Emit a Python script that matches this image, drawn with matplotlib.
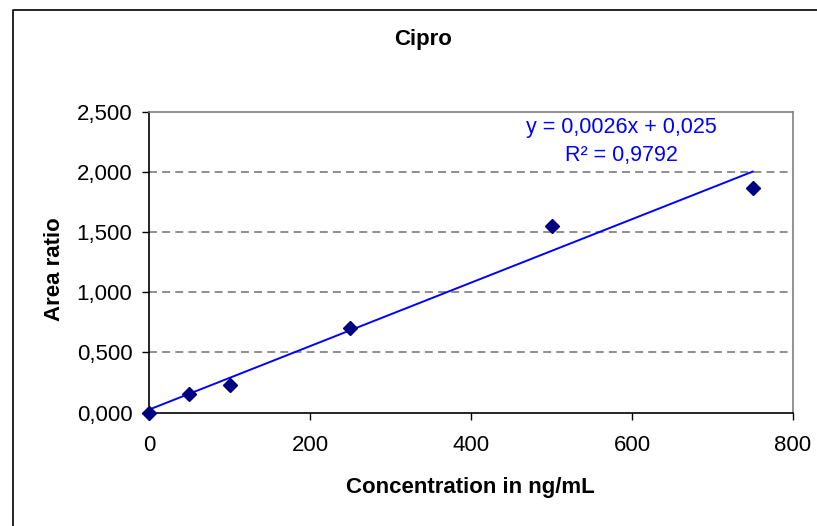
import numpy as np
import matplotlib
matplotlib.use("Agg")
import matplotlib.pyplot as plt
from matplotlib.lines import Line2D

# ---- data ----
concentration = [0, 50, 100, 250, 500, 750]
area_ratio = [0.00, 0.15, 0.23, 0.70, 1.55, 1.87]
x_ticks = [0, 200, 400, 600, 800]
y_ticks = [0.0, 0.5, 1.0, 1.5, 2.0, 2.5]
y_tick_labels = ["0,000", "0,500", "1,000", "1,500", "2,000", "2,500"]
title = "Cipro"
x_label = "Concentration in ng/mL"
y_label = "Area ratio"
eq_text = "y = 0,0026x + 0,025"
r2_text = "R\u00b2 = 0,9792"

plt.rcParams['font.family'] = ['Liberation Sans', 'DejaVu Sans']

W, H = 817, 526
fig = plt.figure(figsize=(W / 100, H / 100), dpi=100)
fig.patch.set_facecolor('white')

left, right, top, bottom = 149, 793, 112, 412.5
ax = fig.add_axes([left / W, 1 - bottom / H, (right - left) / W, (bottom - top) / H])

# outer chart frame (only top & left visible)
fig.add_artist(Line2D([13 / W, 13 / W, 1.0], [0.0, 1 - 10 / H, 1 - 10 / H],
                      transform=fig.transFigure, color='black', lw=1.2))

# grid lines
for yv in y_ticks[1:-1]:
    ax.axhline(yv, color='#707070', lw=1.1, ls=(0, (5.2, 3.4)), zorder=1)

# trendline (least squares fit of the data)
slope, intercept = np.polyfit(concentration, area_ratio, 1)
xs = np.array([min(concentration), max(concentration)])
ax.plot(xs, slope * xs + intercept, color='#0000FF', lw=1.4, zorder=2)

# data points
ax.plot(concentration, area_ratio, ls='none', marker='D', ms=7.2,
        color='#000080', mec='#000080', zorder=3, clip_on=False)

ax.set_xlim(0, 800)
ax.set_ylim(0, 2.5)
ax.set_xticks(x_ticks)
ax.set_xticklabels([str(v) for v in x_ticks])
ax.set_yticks(y_ticks)
ax.set_yticklabels(y_tick_labels)
ax.tick_params(axis='both', direction='out', length=5, width=1, color='black',
               labelsize=16, labelcolor='black')
ax.tick_params(axis='x', pad=11)
ax.tick_params(axis='y', pad=7)

for s in ['left', 'bottom']:
    ax.spines[s].set_color('black')
    ax.spines[s].set_linewidth(1.2)
for s in ['top', 'right']:
    ax.spines[s].set_color('#808080')
    ax.spines[s].set_linewidth(1.2)

# texts
fig.text(423 / W, 1 - 40 / H, title, ha='center', va='center',
         fontsize=16, fontweight='bold')
fig.text(470 / W, 1 - 493 / H, x_label, ha='center', va='baseline',
         fontsize=16, fontweight='bold')
fig.text(54 / W, 1 - 269 / H, y_label, ha='center', va='center',
         rotation=90, fontsize=16, fontweight='bold')

fig.text(621 / W, 1 - 133.5 / H, eq_text, ha='center', va='baseline',
         fontsize=15.5, color='#0000FF')
fig.text(621 / W, 1 - 160.5 / H, r2_text, ha='center', va='baseline',
         fontsize=15.5, color='#0000FF')

fig.savefig('out.png', dpi=100, facecolor='white')
